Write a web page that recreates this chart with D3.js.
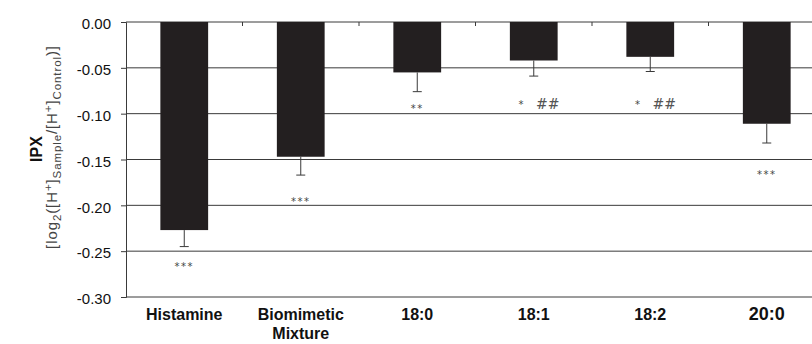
<!DOCTYPE html>
<html>
<head>
<meta charset="utf-8">
<script src="https://cdn.jsdelivr.net/npm/d3@7"></script>
<style>
  body { margin: 0; background: #fff; }
  svg { display: block; font-family: Arial, 'Liberation Sans', sans-serif; }
</style>
</head>
<body>
<svg id="chart" width="812" height="344"></svg>
<script>
const categories = ['Histamine', 'Biomimetic\nMixture', '18:0', '18:1', '18:2', '20:0']
const values = [-0.227, -0.147, -0.055, -0.042, -0.038, -0.111]
const errors = [0.018, 0.020, 0.021, 0.017, 0.016, 0.021]
const stars = ['***', '***', '**', '*', '*', '***']
const hashes = ['', '', '', '##', '##', '']
// where each significance mark sits, in IPX units
const markAt = [-0.265, -0.194, -0.093, -0.088, -0.088, -0.165]
const yTicks = [0, -0.05, -0.1, -0.15, -0.2, -0.25, -0.3]

const svg = d3.select('#chart')
const plotLeft = 126
const plotTop = 22
const plotBottom = 297

const x = d3
  .scaleBand()
  .domain(categories)
  .range([plotLeft, 825])
  .paddingInner(0.59)
  .paddingOuter(0.295)

const y = d3
  .scaleLinear()
  .domain([-0.3, 0])
  .range([plotBottom, plotTop])

// gridlines
svg
  .append('g')
  .selectAll('line')
  .data(yTicks)
  .join('line')
  .attr('x1', plotLeft)
  .attr('x2', 812)
  .attr('y1', d => y(d))
  .attr('y2', d => y(d))
  .attr('stroke', '#3a3a3a')
  .attr('stroke-width', 1)

// y axis
const yAxis = d3
  .axisLeft(y)
  .tickValues(yTicks)
  .tickSize(5)
  .tickFormat(d => d3.format('.2f')(d).replace('−', '-'))

const gy = svg
  .append('g')
  .attr('transform', `translate(${plotLeft},0)`)
  .call(yAxis)
gy.select('.domain').attr('stroke', '#3a3a3a')
gy.selectAll('.tick line').attr('stroke', '#3a3a3a')
gy.selectAll('.tick text')
  .attr('x', -15)
  .attr('dy', '0.45em')
  .attr('font-size', 15)
  .attr('font-family', 'Arial, Liberation Sans, sans-serif')
  .attr('fill', '#111')

// category separators (small ticks below the zero line)
const seps = categories.slice(1).map(c => x(c) - (x.step() - x.bandwidth()) / 2)
svg
  .append('g')
  .selectAll('line')
  .data(seps)
  .join('line')
  .attr('x1', d => d)
  .attr('x2', d => d)
  .attr('y1', y(0))
  .attr('y2', y(0) + 4)
  .attr('stroke', '#3a3a3a')

// bars
svg
  .append('g')
  .selectAll('rect')
  .data(values)
  .join('rect')
  .attr('x', (d, i) => x(categories[i]))
  .attr('y', y(0))
  .attr('width', x.bandwidth())
  .attr('height', d => y(d) - y(0))
  .attr('fill', '#231f20')

// error bars (downward only)
const err = svg.append('g').attr('stroke', '#3a3a3a').attr('stroke-width', 1)
values.forEach((v, i) => {
  const cx = x(categories[i]) + x.bandwidth() / 2
  err.append('line')
    .attr('x1', cx).attr('x2', cx)
    .attr('y1', y(v)).attr('y2', y(v - errors[i]))
  err.append('line')
    .attr('x1', cx - 4.5).attr('x2', cx + 4.5)
    .attr('y1', y(v - errors[i])).attr('y2', y(v - errors[i]))
})

// significance marks
values.forEach((v, i) => {
  const cx = x(categories[i]) + x.bandwidth() / 2
  const my = y(markAt[i])
  svg.append('text')
    .attr('x', hashes[i] ? cx - 12 : cx)
    .attr('y', my + 5)
    .attr('text-anchor', 'middle')
    .attr('font-size', 10)
    .attr('letter-spacing', 1.5)
    .attr('font-family', 'DejaVu Sans, sans-serif')
    .attr('fill', '#444')
    .text(stars[i])
  if (hashes[i]) {
    svg.append('text')
      .attr('x', cx + 14)
      .attr('y', my + 6)
      .attr('text-anchor', 'middle')
      .attr('font-size', 14)
      .attr('font-family', 'DejaVu Serif, serif')
      .attr('fill', '#555')
      .text(hashes[i])
  }
})

// x labels
categories.forEach((c, i) => {
  const cx = x(c) + x.bandwidth() / 2
  const t = svg.append('text')
    .attr('x', cx)
    .attr('y', 320)
    .attr('text-anchor', 'middle')
    .attr('font-size', i === 5 ? 18 : 16)
    .attr('font-weight', 'bold')
    .attr('fill', '#111')
  c.split('\n').forEach((line, k) => {
    t.append('tspan')
      .attr('x', cx)
      .attr('dy', k === 0 ? 0 : 19)
      .text(line)
  })
})

// y axis titles
svg.append('text')
  .attr('transform', 'translate(42,149) rotate(-90)')
  .attr('text-anchor', 'middle')
  .attr('font-size', 16)
  .attr('font-weight', 'bold')
  .attr('fill', '#111')
  .text('IPX')

const sub = svg.append('text')
  .attr('transform', 'translate(57,147) rotate(-90)')
  .attr('text-anchor', 'middle')
  .attr('font-size', 15)
  .attr('letter-spacing', 0.9)
  .attr('fill', '#444')
const parts = [
  ['[log', 0], ['2', 1], ['([H', 0], ['+', -1], [']', 0], ['Sample', 1],
  ['/[H', 0], ['+', -1], [']', 0], ['Control', 1], [')]', 0]
]
parts.forEach(([s, p]) => {
  sub.append('tspan')
    .attr('font-size', p === 0 ? 15 : 11.5)
    .attr('baseline-shift', p === 1 ? '-30%' : p === -1 ? '45%' : '0%')
    .text(s)
})
</script>
</body>
</html>
